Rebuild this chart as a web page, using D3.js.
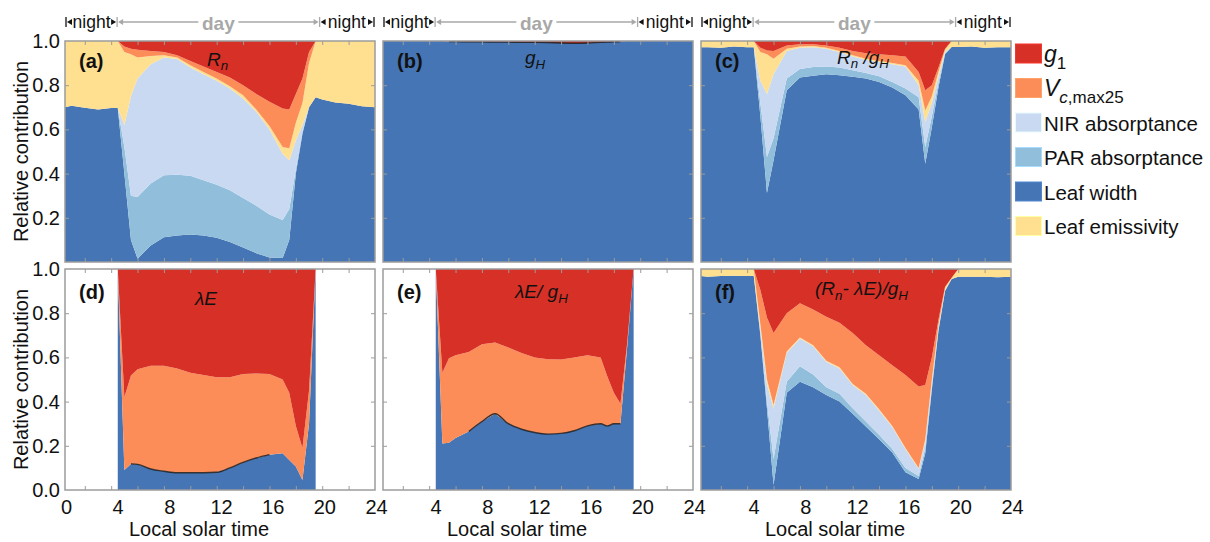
<!DOCTYPE html>
<html>
<head>
<meta charset="utf-8">
<script src="https://cdn.jsdelivr.net/npm/d3@7"></script>
<style>
  body { margin: 0; background: #fff; }
  svg { display: block; font-family: "Liberation Sans", Arial, Helvetica, sans-serif; }
</style>
</head>
<body>
<svg id="chart" width="1210" height="542"></svg>
<script>
// Local solar time of each sample (hours)
const hours = [0.5, 1, 2, 3, 4, 4.5, 5, 5.5, 6, 7, 8, 9, 10, 11, 12, 13, 14, 15, 16, 17, 17.5, 18, 18.5, 19, 19.5, 20, 21, 22, 23, 24];

// (a) Rn
const aLeafWidth  = [0.70, 0.707, 0.698, 0.69, 0.697, 0.697, 0.40, 0.10, 0.015, 0.075, 0.112, 0.12, 0.124, 0.12, 0.11, 0.09, 0.066, 0.04, 0.02, 0.018, 0.10, 0.40, 0.58, 0.70, 0.745, 0.735, 0.722, 0.716, 0.705, 0.70];
const aPAR        = [0, 0, 0, 0, 0, 0, 0.12, 0.20, 0.279, 0.28, 0.28, 0.275, 0.266, 0.25, 0.24, 0.235, 0.224, 0.215, 0.195, 0.172, 0.14, 0.02, 0.01, 0, 0, 0, 0, 0, 0, 0];
const aNIR        = [0, 0, 0, 0, 0, 0, 0.10, 0.45, 0.536, 0.54, 0.533, 0.523, 0.49, 0.48, 0.47, 0.46, 0.45, 0.425, 0.385, 0.30, 0.22, 0.13, 0.03, 0, 0, 0, 0, 0, 0, 0];
const aEmissivity = [0.30, 0.293, 0.302, 0.31, 0.303, 0.303, 0.33, 0.19, 0.095, 0.037, 0.01, 0.007, 0.01, 0.01, 0.01, 0.01, 0.015, 0.01, 0.015, 0.03, 0.055, 0.08, 0.10, 0.20, 0.255, 0.265, 0.278, 0.284, 0.295, 0.30];
const aVcmax      = [0, 0, 0, 0, 0, 0, 0.025, 0.025, 0.035, 0.023, 0.015, 0.01, 0.02, 0.025, 0.03, 0.04, 0.045, 0.07, 0.11, 0.175, 0.175, 0.13, 0.11, 0.05, 0, 0, 0, 0, 0, 0];
const aG1         = [0, 0, 0, 0, 0, 0, 0.025, 0.035, 0.04, 0.045, 0.05, 0.065, 0.09, 0.115, 0.14, 0.165, 0.20, 0.24, 0.275, 0.305, 0.31, 0.24, 0.17, 0.05, 0, 0, 0, 0, 0, 0];

// (b) gH
const bLeafWidth  = [1, 1, 1, 1, 1, 1, 1, 0.998, 0.997, 0.996, 0.996, 0.995, 0.995, 0.994, 0.994, 0.993, 0.991, 0.99, 0.991, 0.994, 0.995, 0.996, 0.998, 1, 1, 1, 1, 1, 1, 1];
const bG1         = [0, 0, 0, 0, 0, 0, 0, 0.002, 0.003, 0.004, 0.004, 0.005, 0.005, 0.006, 0.006, 0.007, 0.009, 0.01, 0.009, 0.006, 0.005, 0.004, 0.002, 0, 0, 0, 0, 0, 0, 0];

// (c) Rn / gH
const cLeafWidth  = [0.972, 0.972, 0.97, 0.975, 0.972, 0.972, 0.66, 0.312, 0.46, 0.777, 0.835, 0.843, 0.849, 0.845, 0.838, 0.83, 0.815, 0.79, 0.755, 0.69, 0.445, 0.61, 0.79, 0.94, 0.973, 0.973, 0.975, 0.97, 0.972, 0.972];
const cPAR        = [0, 0, 0, 0, 0, 0, 0.06, 0.163, 0.10, 0.053, 0.038, 0.039, 0.036, 0.035, 0.03, 0.025, 0.025, 0.025, 0.03, 0.055, 0.075, 0.05, 0.02, 0.005, 0, 0, 0, 0, 0, 0];
const cNIR        = [0, 0, 0, 0, 0, 0, 0.10, 0.285, 0.29, 0.125, 0.097, 0.09, 0.08, 0.07, 0.062, 0.06, 0.065, 0.08, 0.10, 0.055, 0.113, 0.06, 0.03, 0.005, 0, 0, 0, 0, 0, 0];
const cEmissivity = [0.028, 0.028, 0.03, 0.025, 0.028, 0.028, 0.13, 0.18, 0.07, 0.01, 0.005, 0.005, 0.005, 0.005, 0.005, 0.005, 0.005, 0.005, 0.005, 0.02, 0.053, 0.03, 0.02, 0.01, 0.027, 0.027, 0.025, 0.03, 0.028, 0.028];
const cVcmax      = [0, 0, 0, 0, 0, 0, 0.02, 0.017, 0.035, 0.015, 0.01, 0.008, 0.01, 0.015, 0.02, 0.025, 0.03, 0.035, 0.04, 0.04, 0.091, 0.05, 0.02, 0.005, 0, 0, 0, 0, 0, 0];
const cG1         = [0, 0, 0, 0, 0, 0, 0.03, 0.043, 0.045, 0.02, 0.015, 0.015, 0.02, 0.03, 0.045, 0.055, 0.06, 0.065, 0.07, 0.14, 0.223, 0.20, 0.12, 0.035, 0, 0, 0, 0, 0, 0];

// (d) λE  (no values at night)
const dLeafWidth  = [null, null, null, null, null, 1.0, 0.09, 0.118, 0.116, 0.095, 0.085, 0.078, 0.078, 0.078, 0.08, 0.10, 0.125, 0.145, 0.16, 0.166, 0.136, 0.106, 0.045, 0.30, 1.0, null, null, null, null, null];
const dVcmax      = [null, null, null, null, null, 0, 0.33, 0.40, 0.43, 0.467, 0.477, 0.472, 0.452, 0.442, 0.43, 0.41, 0.40, 0.382, 0.365, 0.334, 0.304, 0.184, 0.145, 0.15, 0, null, null, null, null, null];
const dG1         = [null, null, null, null, null, 0, 0.58, 0.482, 0.454, 0.438, 0.438, 0.45, 0.47, 0.48, 0.49, 0.49, 0.475, 0.473, 0.475, 0.50, 0.56, 0.71, 0.81, 0.55, 0, null, null, null, null, null];

// (e) λE / gH  (no values at night)
const eLeafWidth  = [null, null, null, null, null, 1.0, 0.21, 0.214, 0.235, 0.265, 0.31, 0.345, 0.30, 0.275, 0.26, 0.253, 0.256, 0.268, 0.29, 0.30, 0.29, 0.30, 0.30, 0.64, 1.0, null, null, null, null, null];
const eVcmax      = [null, null, null, null, null, 0, 0.32, 0.382, 0.375, 0.36, 0.35, 0.322, 0.345, 0.345, 0.34, 0.339, 0.334, 0.332, 0.32, 0.30, 0.225, 0.14, 0.09, 0.02, 0, null, null, null, null, null];
const eG1         = [null, null, null, null, null, 0, 0.47, 0.404, 0.39, 0.375, 0.34, 0.333, 0.355, 0.38, 0.40, 0.408, 0.41, 0.40, 0.39, 0.40, 0.485, 0.56, 0.61, 0.34, 0, null, null, null, null, null];

// (f) (Rn - λE) / gH
const fLeafWidth  = [0.968, 0.965, 0.968, 0.97, 0.968, 0.968, 0.70, 0.37, 0.023, 0.44, 0.49, 0.465, 0.43, 0.40, 0.345, 0.287, 0.23, 0.17, 0.08, 0.05, 0.166, 0.455, 0.72, 0.90, 0.955, 0.965, 0.965, 0.965, 0.963, 0.965];
const fPAR        = [0, 0, 0, 0, 0, 0, 0.01, 0.03, 0.117, 0.05, 0.07, 0.058, 0.035, 0.035, 0.025, 0.023, 0.02, 0.015, 0.02, 0.013, 0.024, 0.015, 0.005, 0.002, 0, 0, 0, 0, 0, 0];
const fNIR        = [0, 0, 0, 0, 0, 0, 0.02, 0.08, 0.23, 0.13, 0.126, 0.127, 0.115, 0.115, 0.105, 0.12, 0.11, 0.10, 0.085, 0.032, 0.03, 0.02, 0.01, 0.003, 0, 0, 0, 0, 0, 0];
const fEmissivity = [0.032, 0.035, 0.032, 0.03, 0.032, 0.032, 0.02, 0.02, 0.015, 0.007, 0.004, 0.005, 0.005, 0.005, 0.005, 0.005, 0.005, 0.005, 0.005, 0.005, 0.01, 0.01, 0.01, 0.01, 0.005, 0.035, 0.035, 0.035, 0.037, 0.035];
const fVcmax      = [0, 0, 0, 0, 0, 0, 0.155, 0.28, 0.325, 0.173, 0.155, 0.162, 0.199, 0.202, 0.23, 0.22, 0.245, 0.275, 0.33, 0.368, 0.245, 0.10, 0.025, 0.005, 0, 0, 0, 0, 0, 0];
const fG1         = [0, 0, 0, 0, 0, 0, 0.095, 0.22, 0.29, 0.20, 0.155, 0.183, 0.216, 0.243, 0.29, 0.345, 0.39, 0.435, 0.48, 0.532, 0.525, 0.40, 0.23, 0.08, 0.04, 0, 0, 0, 0, 0];

// Stacking order, bottom to top
const layerKeys = ["leafWidth", "par", "nir", "emissivity", "vcmax", "g1"];
const layerColors = {
  g1: "#d73027", vcmax: "#fc8d59", nir: "#c9d9f2",
  par: "#91bfdb", leafWidth: "#4575b4", emissivity: "#fee090"
};
const legendOrder = ["g1", "vcmax", "nir", "par", "leafWidth", "emissivity"];

// Axis ticks and labels
const xTickHours = [2, 4, 6, 8, 10, 12, 14, 16, 18, 20, 22];
const xLabelHours = [0, 4, 8, 12, 16, 20, 24];
const yTicks = [0.2, 0.4, 0.6, 0.8];
const yLabelsTop = [0.2, 0.4, 0.6, 0.8, 1.0];
const yLabelsBottom = [0, 0.2, 0.4, 0.6, 0.8, 1.0];
const dayWindow = [4.45, 19.8];

const panels = [
  { tag: "(a)", col: 0, row: 0, series: { leafWidth: aLeafWidth, par: aPAR, nir: aNIR, emissivity: aEmissivity, vcmax: aVcmax, g1: aG1 },
    title: [["R", "i"], ["n", "s"]], titleX: 142, titleY: 24.5 },
  { tag: "(b)", col: 1, row: 0, series: { leafWidth: bLeafWidth, g1: bG1 },
    title: [["g", "i"], ["H", "s"]], titleX: 142, titleY: 23, edge: [5.5, 18.6] },
  { tag: "(c)", col: 2, row: 0, series: { leafWidth: cLeafWidth, par: cPAR, nir: cNIR, emissivity: cEmissivity, vcmax: cVcmax, g1: cG1 },
    title: [["R", "i"], ["n", "s"], [" /", "i"], ["g", "i"], ["H", "s"]], titleX: 136, titleY: 22.5 },
  { tag: "(d)", col: 0, row: 1, series: { leafWidth: dLeafWidth, vcmax: dVcmax, g1: dG1 },
    title: [["λE", "i"]], titleX: 130, titleY: 36, edge: [5.5, 16.5] },
  { tag: "(e)", col: 1, row: 1, series: { leafWidth: eLeafWidth, vcmax: eVcmax, g1: eG1 },
    title: [["λE/ ", "i"], ["g", "i"], ["H", "s"]], titleX: 132, titleY: 29, edge: [6.5, 18.5] },
  { tag: "(f)", col: 2, row: 1, series: { leafWidth: fLeafWidth, par: fPAR, nir: fNIR, emissivity: fEmissivity, vcmax: fVcmax, g1: fG1 },
    title: [["(R", "i"], ["n", "s"], ["- λE)/", "i"], ["g", "i"], ["H", "s"]], titleX: 114, titleY: 26 }
];

const svg = d3.select("#chart");
const pw = 310, ph = 221;
const colX = [65, 383, 701];
const rowY = [41, 269];
const frameColor = "#9c9c9c";

function addRichText(sel, parts, size) {
  parts.forEach(([txt, kind], i) => {
    const prev = i > 0 ? parts[i - 1][1] : null;
    const t = sel.append("tspan").text(txt)
      .attr("font-style", kind === "n" ? "normal" : "italic")
      .attr("font-size", kind === "s" ? size * 0.7 : size);
    if (kind === "s" && prev !== "s") t.attr("dy", size * 0.25);
    if (kind !== "s" && prev === "s") t.attr("dy", -size * 0.25);
  });
}

panels.forEach(p => {
  const x0 = colX[p.col], y0 = rowY[p.row];
  const g = svg.append("g").attr("transform", `translate(${x0},${y0})`);
  const x = d3.scaleLinear().domain([0.5, 24]).range([0, pw]);
  const xLab = d3.scaleLinear().domain([0, 24]).range([1, pw + 1]);
  const y = d3.scaleLinear().domain([0, 1]).range([ph, 0]);

  const rows = hours.map((h, i) => {
    const r = { h, valid: p.series.leafWidth[i] != null };
    layerKeys.forEach(k => { const s = p.series[k]; r[k] = s && s[i] != null ? s[i] : 0; });
    return r;
  });

  const stacked = d3.stack().keys(layerKeys)(rows);
  const area = d3.area()
    .defined(d => d.data.valid)
    .x(d => x(d.data.h))
    .y0(d => y(d[0]))
    .y1(d => y(d[1]));

  const clipId = "clip-" + p.tag.replace(/[()]/g, "");
  g.append("clipPath").attr("id", clipId).append("rect").attr("width", pw).attr("height", ph);

  const plot = g.append("g").attr("clip-path", `url(#${clipId})`);
  plot.selectAll("path.layer").data(stacked).join("path")
    .attr("class", "layer")
    .attr("fill", d => layerColors[d.key])
    .attr("d", area);

  if (p.edge) {
    const edgeLine = d3.line()
      .defined(d => d.valid && d.h >= p.edge[0] && d.h <= p.edge[1])
      .x(d => x(d.h)).y(d => y(d.leafWidth))
      .curve(d3.curveMonotoneX);
    plot.append("path").datum(rows)
      .attr("fill", "none").attr("stroke", "#1f1f1f").attr("stroke-width", 1.4).attr("stroke-opacity", 0.85)
      .attr("d", edgeLine);
  }

  // inward ticks on all four sides
  const tickGroups = [
    g.append("g").attr("transform", `translate(0,${ph})`).call(d3.axisBottom(x).tickValues(xTickHours).tickSize(-4).tickFormat("")),
    g.append("g").call(d3.axisTop(x).tickValues(xTickHours).tickSize(-4).tickFormat("")),
    g.append("g").call(d3.axisLeft(y).tickValues(yTicks).tickSize(-4).tickFormat("")),
    g.append("g").attr("transform", `translate(${pw},0)`).call(d3.axisRight(y).tickValues(yTicks).tickSize(-4).tickFormat(""))
  ];
  tickGroups.forEach(tg => {
    tg.select(".domain").remove();
    tg.selectAll("line").attr("stroke", frameColor).attr("stroke-width", 1);
  });

  g.append("rect").attr("width", pw).attr("height", ph)
    .attr("fill", "none").attr("stroke", frameColor).attr("stroke-width", 1.5);

  // y labels on the left column
  if (p.col === 0) {
    const yl = g.append("g").call(d3.axisLeft(y)
      .tickValues(p.row === 0 ? yLabelsTop : yLabelsBottom)
      .tickFormat(d3.format(".1f")).tickSize(0).tickPadding(5));
    yl.select(".domain").remove();
    yl.selectAll("text").attr("font-size", 20).attr("fill", "#111").attr("font-family", null);
    svg.append("text")
      .attr("transform", `translate(28,${y0 + ph / 2}) rotate(-90)`)
      .attr("text-anchor", "middle").attr("font-size", 20).attr("fill", "#111")
      .text("Relative contribution");
  }

  // x labels on the bottom row
  if (p.row === 1) {
    const xl = g.append("g").attr("transform", `translate(0,${ph})`)
      .call(d3.axisBottom(xLab)
        .tickValues(p.col === 0 ? xLabelHours : xLabelHours.filter(h => h > 0))
        .tickFormat(d3.format("d")).tickSize(0).tickPadding(10));
    xl.select(".domain").remove();
    xl.selectAll("text").attr("font-size", 20).attr("fill", "#111").attr("font-family", null);
    g.append("text").attr("x", pw / 2 - 21).attr("y", ph + 46)
      .attr("text-anchor", "middle").attr("font-size", 20).attr("fill", "#111")
      .text("Local solar time");
  }

  // day / night markers above the top row
  if (p.row === 0) {
    const a = g.append("g").attr("transform", "translate(0,-19)");
    const xs = x(dayWindow[0]), xe = x(dayWindow[1]);
    const grey = "#a8a8a8", black = "#111";
    const bar = (bx, c) => a.append("line").attr("x1", bx).attr("x2", bx).attr("y1", -5).attr("y2", 5)
      .attr("stroke", c).attr("stroke-width", 1.3);
    const tri = (tx, dir, c) => a.append("path")
      .attr("d", `M${tx},0 L${tx + dir * 5},-3 L${tx + dir * 5},3 Z`).attr("fill", c);
    bar(1, black); bar(xs, grey); bar(xe, grey); bar(pw - 1, black);
    tri(2, 1, black); tri(xs - 1, -1, black);
    tri(xs + 1, 1, grey); tri(xe - 1, -1, grey);
    tri(xe + 1, 1, black); tri(pw - 2, -1, black);
    const mid = (xs + xe) / 2;
    a.append("line").attr("x1", xs + 4).attr("x2", mid - 20).attr("stroke", grey).attr("stroke-width", 1.3);
    a.append("line").attr("x1", mid + 20).attr("x2", xe - 4).attr("stroke", grey).attr("stroke-width", 1.3);
    a.append("text").attr("x", mid).attr("y", 8).attr("text-anchor", "middle")
      .attr("font-size", 19).attr("font-weight", "bold").attr("fill", grey).text("day");
    [[1, xs], [xe, pw - 1]].forEach(([u, v]) => {
      a.append("text").attr("x", (u + v) / 2).attr("y", 6).attr("text-anchor", "middle")
        .attr("font-size", 17.5).attr("fill", black).text("night");
    });
  }

  // panel tag and title
  g.append("text").attr("x", 14).attr("y", p.row === 0 ? 27 : 30)
    .attr("font-size", 20).attr("font-weight", "bold").attr("fill", "#111").text(p.tag);
  const tt = g.append("text").attr("x", p.titleX).attr("y", p.titleY).attr("fill", "#111");
  addRichText(tt, p.title, 19);
});

// legend
const lg = svg.append("g").attr("transform", "translate(1015,43.5)");
const legendLabels = {
  g1: [["g", "i"], ["1", "sn"]],
  vcmax: [["V", "i"], ["c", "si"], [",max25", "sn"]],
  nir: [["NIR absorptance", "n"]],
  par: [["PAR absorptance", "n"]],
  leafWidth: [["Leaf width", "n"]],
  emissivity: [["Leaf emissivity", "n"]]
};
legendOrder.forEach((k, i) => {
  const row = lg.append("g").attr("transform", `translate(0,${i * 34.5})`);
  const c = d3.color(layerColors[k]);
  row.append("rect").attr("x", 0.5).attr("y", 0.5).attr("width", 26).attr("height", 19)
    .attr("fill", layerColors[k]).attr("stroke", c.brighter(0.4)).attr("stroke-width", 1);
  const t = row.append("text").attr("x", 29).attr("y", 18).attr("fill", "#111");
  legendLabels[k].forEach(([txt, kind], j) => {
    const span = t.append("tspan").text(txt);
    if (kind === "n") span.attr("font-size", 20.5);
    if (kind === "i") span.attr("font-size", 23).attr("font-style", "italic");
    if (kind === "si") span.attr("font-size", 17).attr("font-style", "italic");
    if (kind === "sn") span.attr("font-size", 17);
    if (kind[0] === "s" && (j === 0 || legendLabels[k][j - 1][1][0] !== "s")) span.attr("dy", 7);
  });
});
</script>
</body>
</html>
